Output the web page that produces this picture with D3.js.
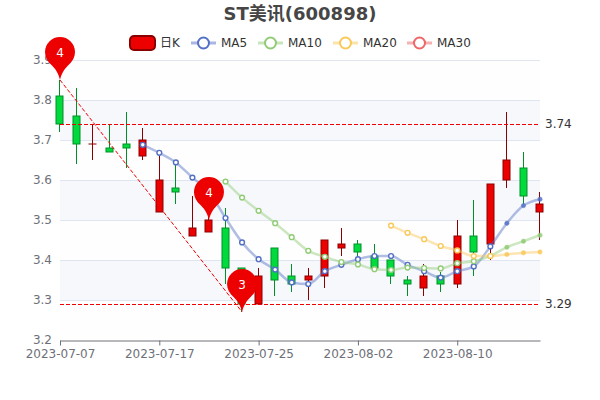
<!DOCTYPE html>
<html>
<head>
<meta charset="utf-8">
<script src="https://cdn.jsdelivr.net/npm/d3@7"></script>
<style>
  html, body { margin: 0; padding: 0; background: #fff; }
  text { font-family: "DejaVu Sans", "Noto Sans CJK SC", sans-serif; }
</style>
</head>
<body>
<div id="chart"></div>
<script>
// Values
const dates = ['2023-07-07','2023-07-10','2023-07-11','2023-07-12','2023-07-13','2023-07-14',
  '2023-07-17','2023-07-18','2023-07-19','2023-07-20','2023-07-21','2023-07-24',
  '2023-07-25','2023-07-26','2023-07-27','2023-07-28','2023-07-31','2023-08-01',
  '2023-08-02','2023-08-03','2023-08-04','2023-08-07','2023-08-08','2023-08-09',
  '2023-08-10','2023-08-11','2023-08-14','2023-08-15','2023-08-16','2023-08-17'];
const opens  = [3.81,3.76,3.69,3.68,3.69,3.66,3.52,3.58,3.46,3.47,3.48,3.38,3.29,3.43,3.36,3.35,3.36,3.43,3.44,3.41,3.40,3.35,3.33,3.36,3.34,3.46,3.44,3.60,3.63,3.52];
const closes = [3.74,3.69,3.69,3.67,3.68,3.70,3.60,3.57,3.48,3.50,3.38,3.29,3.36,3.35,3.34,3.36,3.45,3.44,3.42,3.38,3.36,3.34,3.36,3.34,3.46,3.42,3.59,3.65,3.56,3.54];
const lows   = [3.72,3.64,3.65,3.67,3.63,3.65,3.52,3.54,3.46,3.47,3.34,3.27,3.29,3.31,3.32,3.30,3.33,3.41,3.40,3.38,3.34,3.31,3.31,3.32,3.33,3.36,3.40,3.58,3.54,3.45];
const highs  = [3.85,3.83,3.74,3.74,3.77,3.73,3.66,3.64,3.56,3.53,3.53,3.38,3.38,3.43,3.39,3.38,3.45,3.48,3.45,3.44,3.40,3.36,3.39,3.37,3.50,3.55,3.59,3.77,3.67,3.57];
const ma5  = [null,null,null,null,null,3.688,3.668,3.644,3.606,3.57,3.505,3.444,3.402,3.376,3.344,3.34,3.372,3.388,3.402,3.41,3.41,3.388,3.372,3.356,3.372,3.384,3.434,3.492,3.536,3.552];
const ma10 = [null,null,null,null,null,null,null,null,null,null,3.596,3.556,3.523,3.492,3.457,3.423,3.408,3.395,3.389,3.377,3.375,3.381,3.38,3.379,3.392,3.397,3.41,3.432,3.447,3.462];
const ma20 = [null,null,null,null,null,null,null,null,null,null,null,null,null,null,null,null,null,null,null,null,3.486,3.468,3.452,3.435,3.424,3.41,3.41,3.414,3.418,3.42];
const ma30 = dates.map(() => null);
const yTicks = [3.2, 3.3, 3.4, 3.5, 3.6, 3.7, 3.8, 3.9];
const xTicks = ['2023-07-07','2023-07-17','2023-07-25','2023-08-02','2023-08-10'];
const refLines = [3.74, 3.29];
const pinDates = ['2023-07-07','2023-07-20','2023-07-24'];
const pinValues = [3.85, 3.50, 3.27];
const pinLabels = ['4', '4', '3'];

const upFill = '#ec0000', upStroke = '#8a0000';
const downFill = '#00da3c', downStroke = '#008f28';

const svg = d3.select('#chart').append('svg')
  .attr('width', 600).attr('height', 400)
  .style('display', 'block');

const x = d3.scalePoint().domain(dates).range([60, 540]);
const y = d3.scaleLinear().domain([3.2, 3.9]).range([340, 60]);

// Wick position snapped to a pixel, as in the reference
const snapX = d => Math.floor(x(d) - 0.2) + 0.5;

// Title
svg.append('text')
  .attr('x', 300).attr('y', 20)
  .attr('text-anchor', 'middle')
  .attr('fill', '#464646')
  .style('font-size', '18px').style('font-weight', 'bold')
  .text('ST美讯(600898)');

// Alternating bands
svg.selectAll('.band')
  .data(yTicks.slice(0, -1))
  .enter().append('rect')
  .attr('x', 60).attr('width', 480)
  .attr('y', d => y(d + 0.1)).attr('height', d => y(d) - y(d + 0.1))
  .attr('fill', (d, i) => i % 2 === 1 ? 'rgba(210,219,238,0.2)' : 'rgba(250,250,250,0.2)');

// Y axis, grid lines only, no axis line
const yAxis = svg.append('g')
  .attr('transform', 'translate(60,-0.5)')
  .call(d3.axisLeft(y).tickValues(yTicks).tickSize(0).tickPadding(8).tickFormat(d3.format('.1f')));
yAxis.select('.domain').remove();
yAxis.selectAll('text').attr('fill', '#6e7079').style('font-size', '12px');
svg.selectAll('.grid')
  .data(yTicks.slice(1))
  .enter().append('line')
  .attr('x1', 60).attr('x2', 540)
  .attr('y1', d => y(d) + 0.5).attr('y2', d => y(d) + 0.5)
  .attr('stroke', '#e0e6f1');

// X axis
const xAxis = svg.append('g')
  .attr('transform', 'translate(0,340.5)')
  .call(d3.axisBottom(x).tickValues(xTicks).tickSize(5).tickSizeOuter(0).tickPadding(4));
xAxis.select('.domain').attr('stroke', '#6e7079');
xAxis.selectAll('line').attr('stroke', '#6e7079');
xAxis.selectAll('text').attr('fill', '#6e7079').style('font-size', '12px');

// Candlesticks
const candles = svg.selectAll('.candle')
  .data(dates)
  .enter().append('g')
  .attr('class', 'candle');

candles.append('line')
  .attr('x1', snapX)
  .attr('x2', snapX)
  .attr('y1', (d, i) => y(highs[i]))
  .attr('y2', (d, i) => y(lows[i]))
  .attr('stroke', (d, i) => closes[i] >= opens[i] ? upStroke : downStroke);

// open == close still needs a visible dash, a zero height rect draws nothing
candles.append('rect')
  .attr('x', d => snapX(d) - 3.5)
  .attr('width', 7)
  .attr('y', (d, i) => y(Math.max(opens[i], closes[i])))
  .attr('height', (d, i) => Math.max(Math.abs(y(opens[i]) - y(closes[i])), 0.01))
  .attr('fill', (d, i) => closes[i] >= opens[i] ? upFill : downFill)
  .attr('stroke', (d, i) => closes[i] >= opens[i] ? upStroke : downStroke);

// Moving averages
const maSeries = [
  { name: 'MA5', values: ma5, color: '#5470c6', legendX: 191 },
  { name: 'MA10', values: ma10, color: '#91cc75', legendX: 258 },
  { name: 'MA20', values: ma20, color: '#fac858', legendX: 333 },
  { name: 'MA30', values: ma30, color: '#ee6666', legendX: 407 }
];

const line = d3.line()
  .defined(d => d != null)
  .x((d, i) => x(dates[i]))
  .y(d => y(d))
  .curve(d3.curveMonotoneX);

maSeries.forEach(s => {
  svg.append('path')
    .attr('d', line(s.values))
    .attr('fill', 'none')
    .attr('stroke', s.color)
    .attr('stroke-width', 2.5)
    .attr('stroke-opacity', 0.45);

  // the last three points are solid in the reference
  svg.selectAll('.pt-' + s.name)
    .data(s.values.map((v, i) => ({ v, i })).filter(d => d.v != null))
    .enter().append('circle')
    .attr('cx', d => x(dates[d.i]))
    .attr('cy', d => y(d.v))
    .attr('r', d => d.i >= 27 ? 2.2 : 2.4)
    .attr('fill', d => d.i >= 27 ? s.color : '#fff')
    .attr('stroke', s.color)
    .attr('stroke-width', d => d.i >= 27 ? 0.5 : 1.4)
    .attr('opacity', d => d.i >= 27 ? 0.85 : 1);
});

// Reference lines
svg.selectAll('.ref')
  .data(refLines)
  .enter().append('line')
  .attr('x1', 60).attr('x2', 540)
  .attr('y1', d => y(d) + 0.5).attr('y2', d => y(d) + 0.5)
  .attr('stroke', '#f00000')
  .attr('stroke-dasharray', '4,2');

svg.selectAll('.ref-label')
  .data(refLines)
  .enter().append('text')
  .attr('x', 545).attr('y', d => y(d))
  .attr('dy', '0.35em')
  .attr('fill', '#333')
  .style('font-size', '12px')
  .text(d => d3.format('.2f')(d));

// Diagonal from highest to lowest
svg.append('line')
  .attr('x1', x(pinDates[0])).attr('y1', y(pinValues[0]))
  .attr('x2', x(pinDates[2])).attr('y2', y(pinValues[2]))
  .attr('stroke', '#f00000')
  .attr('stroke-dasharray', '4,2');

// Pins
const pins = svg.selectAll('.pin')
  .data(pinDates)
  .enter().append('g')
  .attr('transform', (d, i) => `translate(${x(d)},${y(pinValues[i])})`);

pins.append('path')
  .attr('d', 'M0,0 C-1.5,-6 -3.5,-10 -8,-14.5 C-12.5,-18.5 -15,-23 -15,-28 A15,15 0 1 1 15,-28 C15,-23 12.5,-18.5 8,-14.5 C3.5,-10 1.5,-6 0,0 Z')
  .attr('fill', '#ec0000');

pins.append('text')
  .attr('y', -27)
  .attr('dy', '0.35em')
  .attr('text-anchor', 'middle')
  .attr('fill', '#fff')
  .style('font-size', '12px')
  .text((d, i) => pinLabels[i]);

// Legend
const legend = svg.append('g');
legend.append('rect')
  .attr('x', 130).attr('y', 36)
  .attr('width', 25).attr('height', 14).attr('rx', 4)
  .attr('fill', upFill).attr('stroke', upStroke).attr('stroke-width', 2);
legend.append('text')
  .attr('x', 160).attr('y', 43).attr('dy', '0.35em')
  .attr('fill', '#333').style('font-size', '12px')
  .text('日K');

maSeries.forEach(s => {
  legend.append('line')
    .attr('x1', s.legendX).attr('x2', s.legendX + 25)
    .attr('y1', 43).attr('y2', 43)
    .attr('stroke', s.color).attr('stroke-width', 3).attr('stroke-opacity', 0.5);
  legend.append('circle')
    .attr('cx', s.legendX + 12.5).attr('cy', 43).attr('r', 5.5)
    .attr('fill', '#fff').attr('stroke', s.color).attr('stroke-width', 2);
  legend.append('text')
    .attr('x', s.legendX + 30).attr('y', 43).attr('dy', '0.35em')
    .attr('fill', '#333').style('font-size', '12px')
    .text(s.name);
});
</script>
</body>
</html>
